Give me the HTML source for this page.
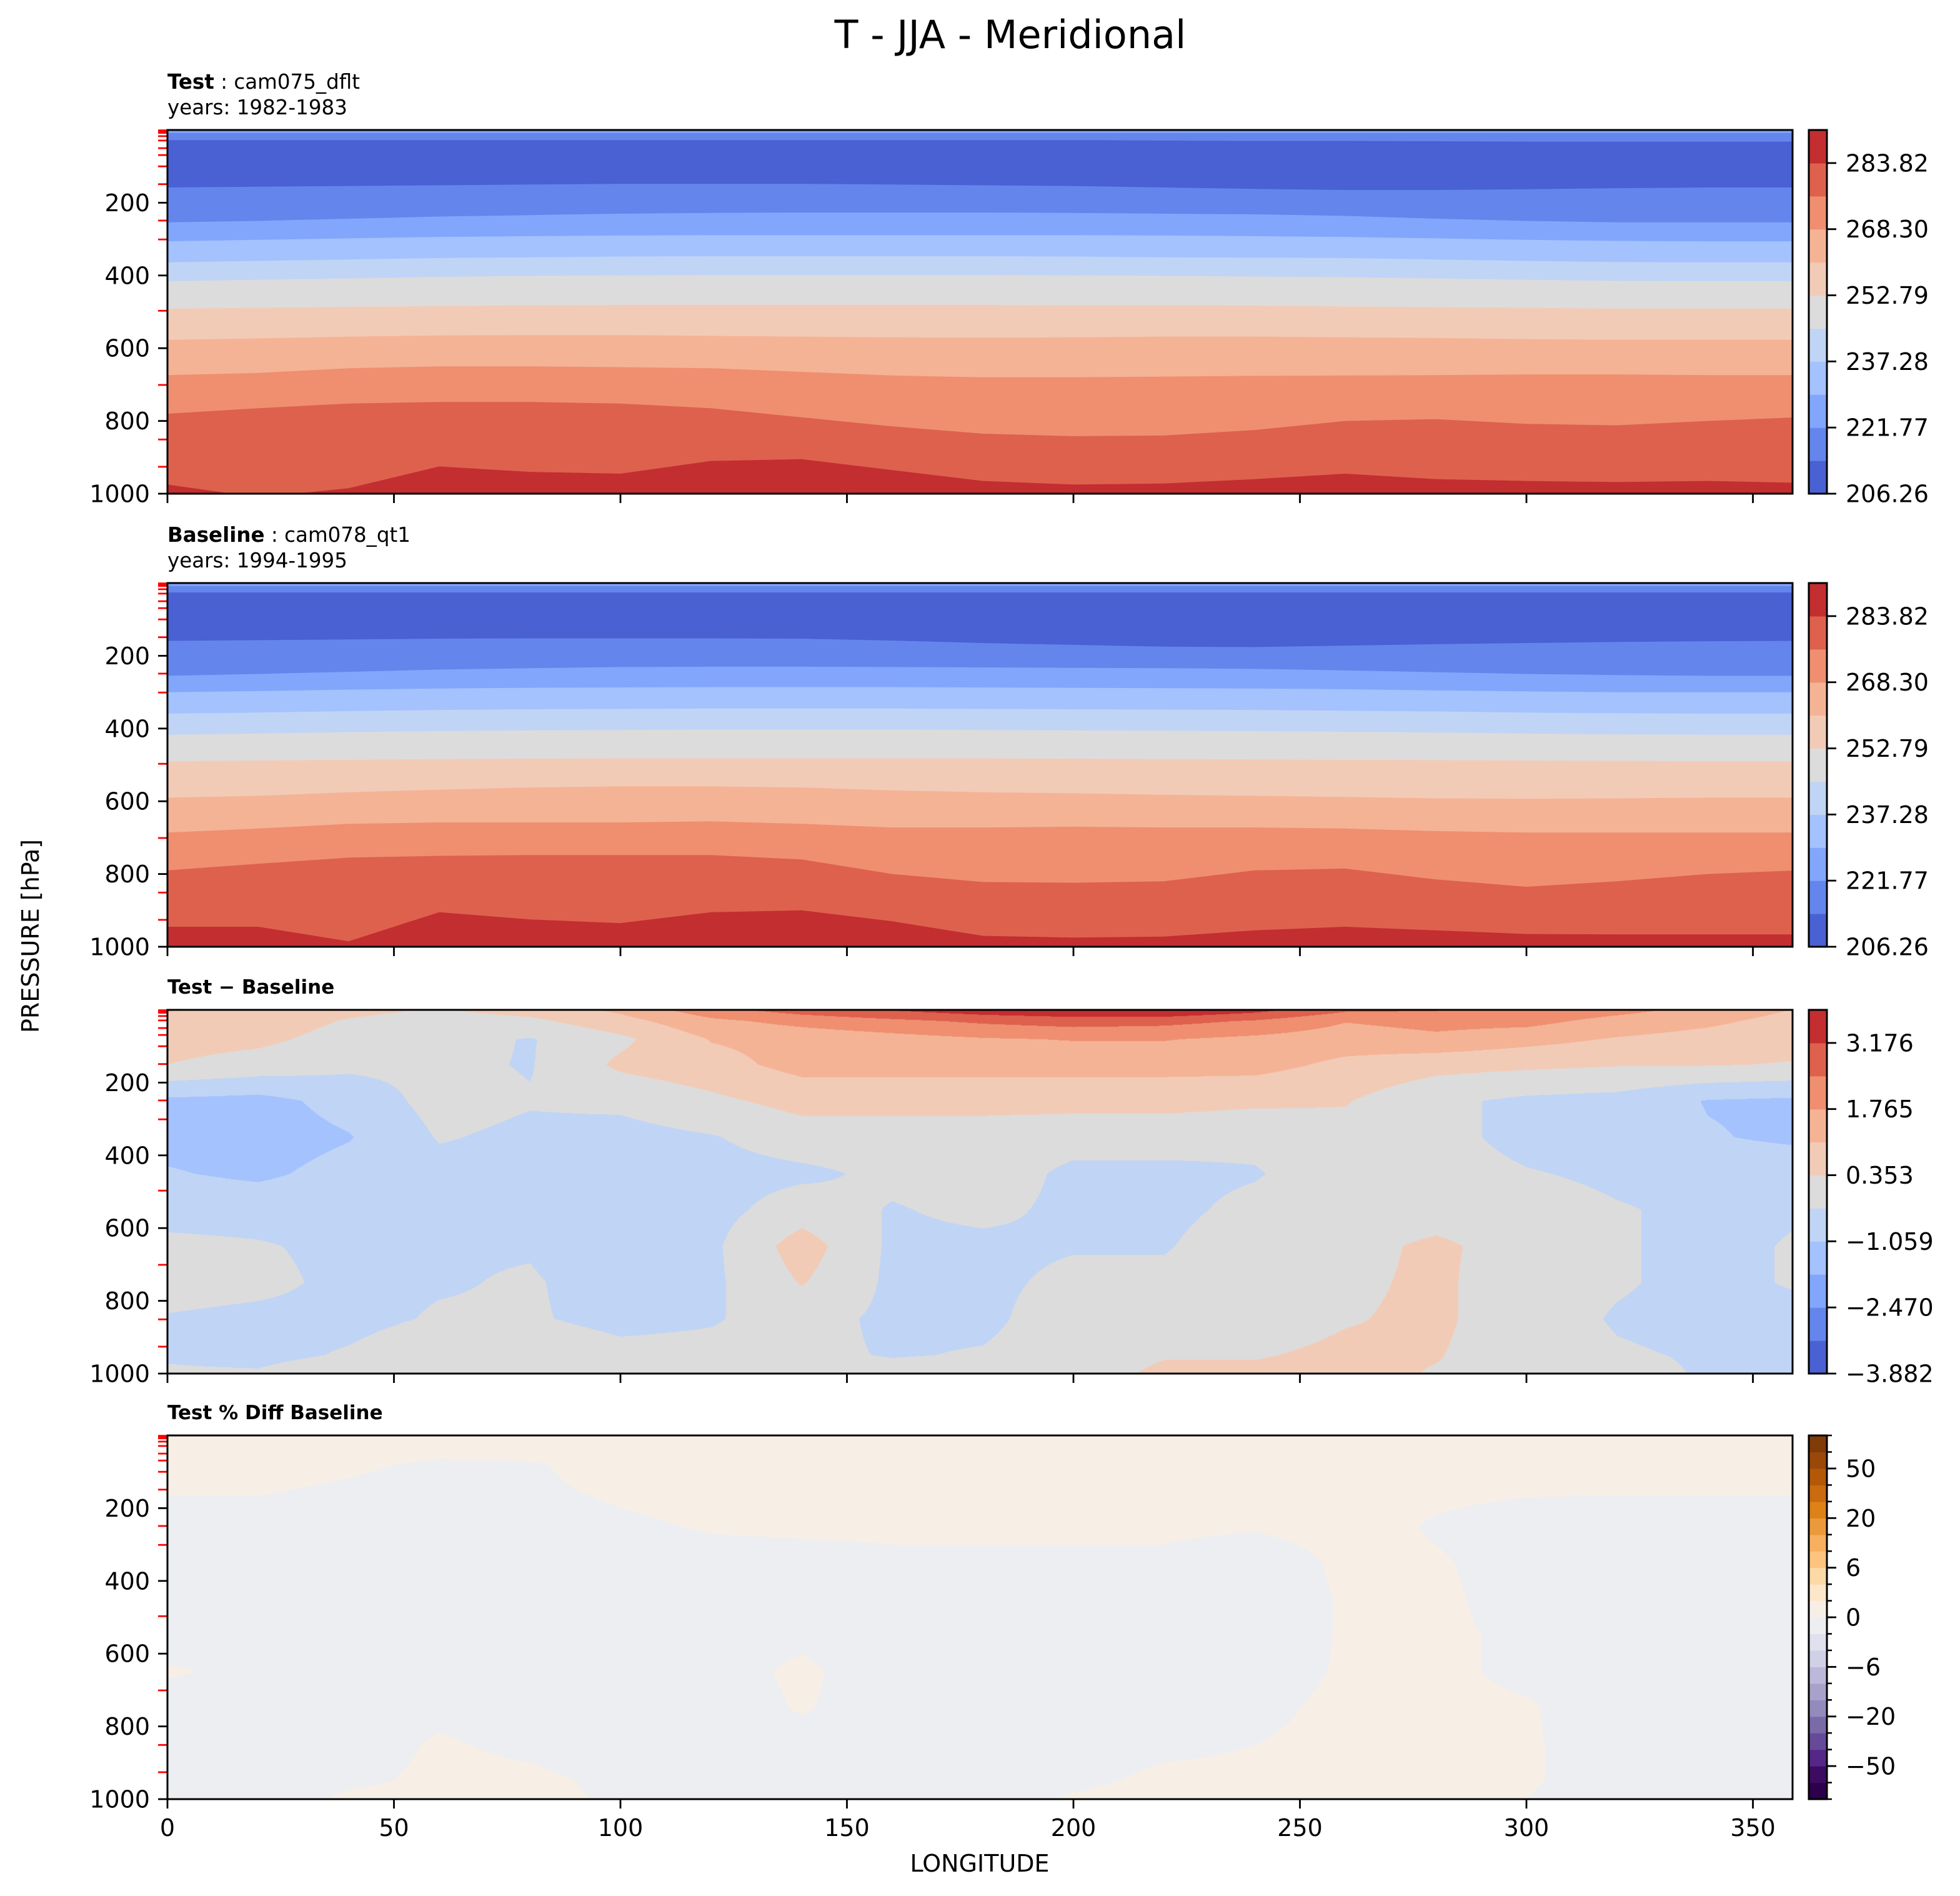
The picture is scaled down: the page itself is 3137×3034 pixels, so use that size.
<!DOCTYPE html>
<html><head><meta charset="utf-8">
<style>
html,body{margin:0;padding:0;background:#fff;}
#root{position:relative;width:3137px;height:3034px;overflow:hidden;background:#fff;font-family:"DejaVu Sans","Liberation Sans",sans-serif;}
canvas{position:absolute;}
svg{position:absolute;left:0;top:0;}
text{font-family:"DejaVu Sans","Liberation Sans",sans-serif;fill:#000;}
</style></head>
<body>
<div id="root">
<canvas id="c3" width="2601" height="581" style="left:268px;top:1616px"></canvas>
<canvas id="c4" width="2601" height="581" style="left:268px;top:2297px"></canvas>
<svg id="s" width="3137" height="3034" xmlns="http://www.w3.org/2000/svg">
<text x="1617" y="77" font-size="62" text-anchor="middle">T - JJA - Meridional</text>
<text x="268" y="142" font-size="32.5"><tspan font-weight="bold">Test</tspan> : cam075_dflt</text>
<text x="268" y="183" font-size="32.5">years: 1982-1983</text>
<text x="268" y="867" font-size="32.5"><tspan font-weight="bold">Baseline</tspan> : cam078_qt1</text>
<text x="268" y="908" font-size="32.5">years: 1994-1995</text>
<text x="268" y="1590" font-size="31" font-weight="bold">Test − Baseline</text>
<text x="268" y="2271" font-size="31" font-weight="bold">Test % Diff Baseline</text>
<text x="62" y="1498" font-size="38" text-anchor="middle" transform="rotate(-90 62 1498)">PRESSURE [hPa]</text>
<text x="1568" y="2995" font-size="38" text-anchor="middle">LONGITUDE</text>
</svg>
</div>
<script>
// ---------- data ----------
const LON_NODES=[0,20,40,60,80,100,120,140,160,180,200,220,240,260,280,300,320,340,360];
// Panel 1 (Test) contour boundaries, hPa, top to bottom
const T_cA=[8,8,8,8,8,8,8,8,8,8,8,8,8,8,8,8,8,8,8];
const T_cB=[28,28,28,28,28,28,28,28,28,28,28,29,30,30,31,32,32,32,32];
const T_b1=[158,156,154,152,150,148,148,148,150,152,154,158,162,165,165,163,160,158,158];
const T_b2=[254,250,244,238,234,230,228,227,227,227,228,230,232,236,244,250,254,254,254];
const T_b3=[306,302,298,294,292,290,289,289,289,289,289,290,292,294,298,302,305,306,306];
const T_b4=[364,360,356,352,350,348,347,347,347,347,348,350,351,352,356,360,363,364,364];
const T_b5=[416,412,408,404,401,400,399,399,399,399,400,401,403,405,408,412,415,416,416];
const T_b6=[491,489,486,484,482,481,481,481,481,481,482,482,483,485,487,489,491,491,491];
const T_b7=[577,573,568,565,564,564,566,568,570,571,570,568,568,570,572,575,577,577,577];
const T_b8=[674,668,655,650,650,652,655,665,675,680,680,678,676,675,674,672,672,674,674];
const T_b9=[780,765,752,748,748,752,765,790,815,835,842,840,825,800,795,808,812,800,790];
const T_b10=[975,1010,985,925,940,945,910,905,935,965,975,972,960,945,960,965,968,965,970];
// Panel 2 (Baseline)
const B_cA=[8,8,8,8,8,8,8,8,8,8,8,8,8,8,8,8,8,8,8];
const B_cB=[26,26,26,26,26,26,26,26,26,26,26,26,26,26,26,26,26,26,26];
const B_b1=[159,157,155,153,152,152,152,153,158,165,170,175,176,172,168,165,162,160,159];
const B_b2=[255,250,244,238,234,231,230,230,231,232,233,234,236,240,245,250,253,255,255];
const B_b3=[300,297,293,290,288,287,286,286,286,287,288,289,290,292,295,298,300,300,300];
const B_b4=[359,356,352,349,347,346,345,345,345,346,347,348,349,351,353,356,358,359,359];
const B_b5=[417,414,410,407,405,404,403,403,403,404,405,406,407,409,411,414,416,417,417];
const B_b6=[490,488,486,484,483,482,482,482,482,482,483,484,485,486,487,488,489,490,490];
const B_b7=[590,585,575,568,562,559,559,562,570,575,578,582,585,588,592,593,592,590,590];
const B_b8=[686,675,662,658,658,658,655,662,672,672,670,672,672,675,682,686,686,686,686];
const B_b9=[790,772,755,750,748,748,748,760,800,822,824,820,790,785,815,835,820,800,790];
const B_b10=[945,945,985,905,925,935,905,900,930,970,975,972,955,945,955,965,966,966,966];
// Panel 3 / 4 grids: rows are pressures, columns at LON_NODES
const GRID_P=[0,30,80,150,250,350,450,550,650,750,850,950,1000];
const DIFF_COLS=[
[1.1,0.8,0.6,0.35,-1.2,-1.3,-1.0,-0.6,-0.2,-0.1,-0.4,-0.4,-0.3],
[0.9,0.7,0.5,0.1,-1.3,-1.4,-1.2,-0.6,-0.3,-0.2,-0.5,-0.5,-0.3],
[0.5,0.3,0.1,-0.2,-0.8,-1.1,-0.8,-0.6,-0.5,-0.5,-0.5,-0.3,0.0],
[0.3,0.1,-0.1,-0.2,-0.1,-0.3,-0.6,-0.5,-0.4,-0.4,-0.3,0.0,0.3],
[0.6,0.2,-0.4,-0.4,-0.3,-0.5,-0.6,-0.6,-0.4,-0.3,-0.3,0.0,0.2],
[1.2,0.8,0.2,0.5,-0.2,-0.6,-0.6,-0.6,-0.7,-0.6,-0.5,-0.2,0.0],
[2.2,1.6,1.1,0.8,0.2,-0.4,-0.6,-0.6,-0.5,-0.5,-0.4,-0.2,0.0],
[2.8,2.0,1.3,1.3,0.6,0.0,-0.5,0.0,0.7,0.4,-0.1,-0.2,0.0],
[3.2,2.3,1.5,1.3,0.6,0.0,-0.2,-0.4,-0.5,-0.5,-0.5,-0.4,-0.1],
[3.6,2.6,1.7,1.3,0.6,0.0,0.0,-0.2,-0.5,-0.5,-0.5,-0.3,0.0],
[3.8,2.8,1.8,1.3,0.6,-0.1,-0.5,-0.5,-0.4,-0.2,0.0,0.0,0.0],
[3.9,2.7,1.8,1.3,0.6,-0.1,-0.5,-0.5,-0.4,-0.2,0.1,0.3,0.5],
[3.4,2.4,1.6,1.3,0.5,-0.2,-0.4,-0.2,0.0,0.0,0.0,0.3,0.5],
[2.6,1.8,1.4,0.9,0.4,0.1,0.0,0.0,0.1,0.2,0.3,0.5,0.6],
[2.5,2.0,1.6,0.6,-0.2,-0.1,0.0,0.0,0.5,0.5,0.5,0.4,0.3],
[2.4,2.0,1.3,0.5,-0.5,-0.6,-0.3,0.0,0.0,-0.1,-0.1,-0.1,0.0],
[2.0,1.5,1.0,0.4,-0.6,-0.7,-0.5,-0.3,-0.3,-0.3,-0.4,-0.3,-0.2],
[1.5,1.2,0.8,0.4,-1.1,-1.0,-0.6,-0.5,-0.5,-0.5,-0.5,-0.4,-0.4],
[1.0,0.8,0.6,0.3,-1.2,-1.2,-0.6,-0.4,-0.3,-0.3,-0.5,-0.5,-0.5]];
const PCT_COLS=[
[.3,.3,.3,.05,-.3,-.3,-.3,-.2,.05,-.2,-.3,-.3,-.3],
[.3,.3,.3,.05,-.3,-.3,-.3,-.3,-.1,-.3,-.3,-.3,-.3],
[.3,.3,.1,-.1,-.3,-.3,-.3,-.3,-.3,-.3,-.2,-.1,.1],
[.3,.2,-.1,-.2,-.3,-.3,-.3,-.3,-.2,-.1,.05,.1,.2],
[.3,.2,-.05,-.1,-.3,-.3,-.3,-.3,-.3,-.2,-.1,.1,.1],
[.3,.3,.2,.1,-.1,-.3,-.3,-.3,-.3,-.3,-.3,-.1,-.05],
[.3,.3,.3,.2,.05,-.2,-.3,-.3,-.2,-.3,-.3,-.2,-.1],
[.3,.3,.3,.2,.1,-.2,-.3,-.1,.1,.05,-.2,-.3,-.2],
[.3,.3,.3,.3,.1,-.1,-.3,-.3,-.3,-.3,-.3,-.3,-.2],
[.3,.3,.3,.3,.1,-.1,-.3,-.3,-.3,-.3,-.3,-.3,-.2],
[.3,.3,.3,.3,.1,-.1,-.3,-.3,-.3,-.3,-.2,-.1,.05],
[.3,.3,.3,.3,.1,-.1,-.3,-.3,-.3,-.2,-.1,.1,.2],
[.3,.3,.3,.3,.05,-.3,-.3,-.3,-.2,-.1,.0,.1,.2],
[.3,.3,.3,.3,.2,.1,.05,.05,.05,.1,.1,.2,.2],
[.3,.3,.3,.1,-.05,.05,.1,.1,.1,.1,.15,.2,.2],
[.3,.3,.3,.05,-.2,-.2,-.2,-.1,-.1,.05,.05,.05,.0],
[.3,.3,.3,.05,-.3,-.3,-.3,-.3,-.3,-.3,-.2,-.2,-.3],
[.3,.3,.3,.05,-.3,-.3,-.3,-.3,-.3,-.3,-.3,-.3,-.3],
[.3,.3,.3,.05,-.3,-.3,-.3,-.3,-.1,-.3,-.3,-.3,-.3]];
// ticks / levels
const X_TICKS=[0,50,100,150,200,250,300,350];
const Y_TICKS=[200,400,600,800,1000];
const MODEL_LEVELS=[1,4,8,17,29,50,69,100,149,249,301,497,701,851,926];
const CB_T_LABELS=['206.26','221.77','237.28','252.79','268.30','283.82'];
const CB_D_LABELS=['−3.882','−2.470','−1.059','0.353','1.765','3.176'];
const CB_P_LABELS=['−50','−20','−6','0','6','20','50'];
const DIFF_LEVELS=[-3.882,-3.176,-2.470,-1.765,-1.059,-0.353,0.353,1.059,1.765,2.470,3.176,3.882];
const PCT_LEVELS=[-70,-60,-50,-40,-30,-20,-15,-10,-6,-4,-2,0,2,4,6,10,15,20,30,40,50,60,70];

const COOL=['#4961d2','#6485ec','#82a6fb','#a3c2fe','#c0d4f5','#dddcdc','#f2cbb7','#f5b396','#ef8f70','#de614d','#c32e31'];
const PUOR=['#2d004b','#3d0b62','#542788','#664a9a','#7b6aa8','#948bbd','#a8a2cb','#bcb8da','#d0d0e6','#e0e0ee','#edeef2','#f7efe6','#fee6ca','#fdd9a5','#fdc47f','#f7b05f','#eb9a3b','#de8116','#c96b0e','#b35806','#9a4808','#7f3b08'];

// ---------- geometry ----------
const NS='http://www.w3.org/2000/svg';
const svg=document.getElementById('s');
const X0=268,X1=2869,LONMAX=358.75,PH=582,CBX=2895,CBW=29;
const TOPS=[208,933,1616,2297];
function xs(lon){return X0+lon/LONMAX*(X1-X0);}
function ys(p,top){return top+p/1000*PH;}
function mk(tag,parent){const e=document.createElementNS(NS,tag);(parent||svg).appendChild(e);return e;}

function drawBands(top,topColor,curves,colors,pname){
  const cp=mk('clipPath');cp.setAttribute('id','clip-'+pname);
  const cr=mk('rect',cp);cr.setAttribute('x',X0);cr.setAttribute('y',top);cr.setAttribute('width',X1-X0);cr.setAttribute('height',PH);
  const g=mk('g');g.setAttribute('clip-path','url(#clip-'+pname+')');
  
  
  const bg=mk('rect',g);bg.setAttribute('x',X0);bg.setAttribute('y',top);bg.setAttribute('width',X1-X0);bg.setAttribute('height',PH);bg.setAttribute('fill',topColor);
  
  
  curves.forEach((c,i)=>{
    let pts=LON_NODES.map((l,j)=>xs(l).toFixed(1)+','+ys(c[j],top).toFixed(1));
    pts.push(xs(360).toFixed(1)+','+ys(1020,top).toFixed(1));
    pts.push(xs(0).toFixed(1)+','+ys(1020,top).toFixed(1));
    const pg=mk('polygon',g);pg.setAttribute('points',pts.join(' '));pg.setAttribute('fill',colors[i]);
    
    
  });
}
drawBands(TOPS[0],COOL[2],[T_cA,T_cB,T_b1,T_b2,T_b3,T_b4,T_b5,T_b6,T_b7,T_b8,T_b9,T_b10],
  [COOL[1],COOL[0],COOL[1],COOL[2],COOL[3],COOL[4],COOL[5],COOL[6],COOL[7],COOL[8],COOL[9],COOL[10]],'test');
drawBands(TOPS[1],COOL[2],[B_cA,B_cB,B_b1,B_b2,B_b3,B_b4,B_b5,B_b6,B_b7,B_b8,B_b9,B_b10],
  [COOL[1],COOL[0],COOL[1],COOL[2],COOL[3],COOL[4],COOL[5],COOL[6],COOL[7],COOL[8],COOL[9],COOL[10]],'baseline');

// canvas grids
function sample(cols,lon,p){
  let i=Math.min(Math.floor(lon/20),LON_NODES.length-2);
  const fx=(lon-LON_NODES[i])/(LON_NODES[i+1]-LON_NODES[i]);
  let k=0;while(k<GRID_P.length-2&&p>GRID_P[k+1])k++;
  const fy=(p-GRID_P[k])/(GRID_P[k+1]-GRID_P[k]);
  const a=cols[i][k],b=cols[i+1][k],c=cols[i][k+1],d=cols[i+1][k+1];
  return (a*(1-fx)+b*fx)*(1-fy)+(c*(1-fx)+d*fx)*fy;
}
function hex(h){return [parseInt(h.substr(1,2),16),parseInt(h.substr(3,2),16),parseInt(h.substr(5,2),16)];}
function renderGrid(id,cols,levels,colors){
  const cv=document.getElementById(id),ctx=cv.getContext('2d');
  const W=cv.width,H=cv.height,img=ctx.createImageData(W,H),rgb=colors.map(hex);
  for(let y=0;y<H;y++){
    const p=y/H*1000;
    for(let x=0;x<W;x++){
      const lon=x/W*LONMAX;
      const v=sample(cols,lon,p);
      let b=0;while(b<levels.length-2&&v>=levels[b+1])b++;
      const c=rgb[b],o=(y*W+x)*4;
      img.data[o]=c[0];img.data[o+1]=c[1];img.data[o+2]=c[2];img.data[o+3]=255;
    }
  }
  ctx.putImageData(img,0,0);
}
renderGrid('c3',DIFF_COLS,DIFF_LEVELS,COOL);
renderGrid('c4',PCT_COLS,PCT_LEVELS,PUOR);

// axes
const PANEL_NAMES=['test','baseline','difference','percent-diff'];
TOPS.forEach((top,pi)=>{
  const bot=top+PH;
  X_TICKS.forEach(t=>{
    const l=mk('line');l.setAttribute('x1',xs(t));l.setAttribute('x2',xs(t));l.setAttribute('y1',bot);l.setAttribute('y2',bot+15);l.setAttribute('stroke','#000');l.setAttribute('stroke-width','2.8');
    
    
    if(pi===3){
      const tx=mk('text');tx.setAttribute('x',xs(t));tx.setAttribute('y',2938);tx.setAttribute('font-size','38');tx.setAttribute('text-anchor','middle');tx.textContent=t;
      
      
    }
  });
  MODEL_LEVELS.forEach(p=>{
    const l=mk('line');l.setAttribute('x1',253);l.setAttribute('x2',X0);l.setAttribute('y1',ys(p,top));l.setAttribute('y2',ys(p,top));l.setAttribute('stroke','#ff0000');l.setAttribute('stroke-width','2.8');
    
    
  });
  Y_TICKS.forEach(p=>{
    const y=ys(p,top);
    const l=mk('line');l.setAttribute('x1',253);l.setAttribute('x2',X0);l.setAttribute('y1',y);l.setAttribute('y2',y);l.setAttribute('stroke','#000');l.setAttribute('stroke-width','2.8');
    
    
    const tx=mk('text');tx.setAttribute('x',240);tx.setAttribute('y',y+13.5);tx.setAttribute('font-size','38');tx.setAttribute('text-anchor','end');tx.textContent=p;
    
    
  });
  const fr=mk('rect');fr.setAttribute('x',X0);fr.setAttribute('y',top);fr.setAttribute('width',X1-X0);fr.setAttribute('height',PH);fr.setAttribute('fill','none');fr.setAttribute('stroke','#000');fr.setAttribute('stroke-width','3');
  
  
});

// colorbars
function colorbar(top,colors,labels,majorIdx,minor,name){
  const n=colors.length,h=PH/n;
  colors.forEach((c,i)=>{
    const r=mk('rect');r.setAttribute('x',CBX);r.setAttribute('y',top+PH-(i+1)*h);r.setAttribute('width',CBW);r.setAttribute('height',h+0.6);r.setAttribute('fill',c);
    
    
  });
  if(minor){for(let i=0;i<=n;i++){
    const y=top+PH-i*h;const l=mk('line');l.setAttribute('x1',CBX+CBW);l.setAttribute('x2',CBX+CBW+8);l.setAttribute('y1',y);l.setAttribute('y2',y);l.setAttribute('stroke','#000');l.setAttribute('stroke-width','2.5');
    
    
  }}
  labels.forEach((lab,k)=>{
    const y=top+PH-majorIdx[k]*h;
    const l=mk('line');l.setAttribute('x1',CBX+CBW);l.setAttribute('x2',CBX+CBW+15);l.setAttribute('y1',y);l.setAttribute('y2',y);l.setAttribute('stroke','#000');l.setAttribute('stroke-width','2.8');
    
    
    const tx=mk('text');tx.setAttribute('x',2954);tx.setAttribute('y',y+13.5);tx.setAttribute('font-size','38');tx.textContent=lab;
    
    
  });
  const fr=mk('rect');fr.setAttribute('x',CBX);fr.setAttribute('y',top);fr.setAttribute('width',CBW);fr.setAttribute('height',PH);fr.setAttribute('fill','none');fr.setAttribute('stroke','#000');fr.setAttribute('stroke-width','3');
  
  
}
colorbar(TOPS[0],COOL,CB_T_LABELS,[0,2,4,6,8,10],false,'test-colorbar');
colorbar(TOPS[1],COOL,CB_T_LABELS,[0,2,4,6,8,10],false,'baseline-colorbar');
colorbar(TOPS[2],COOL,CB_D_LABELS,[0,2,4,6,8,10],false,'difference-colorbar');
colorbar(TOPS[3],PUOR,CB_P_LABELS,[2,5,8,11,14,17,20],true,'percent-colorbar');
</script>
</body></html>
